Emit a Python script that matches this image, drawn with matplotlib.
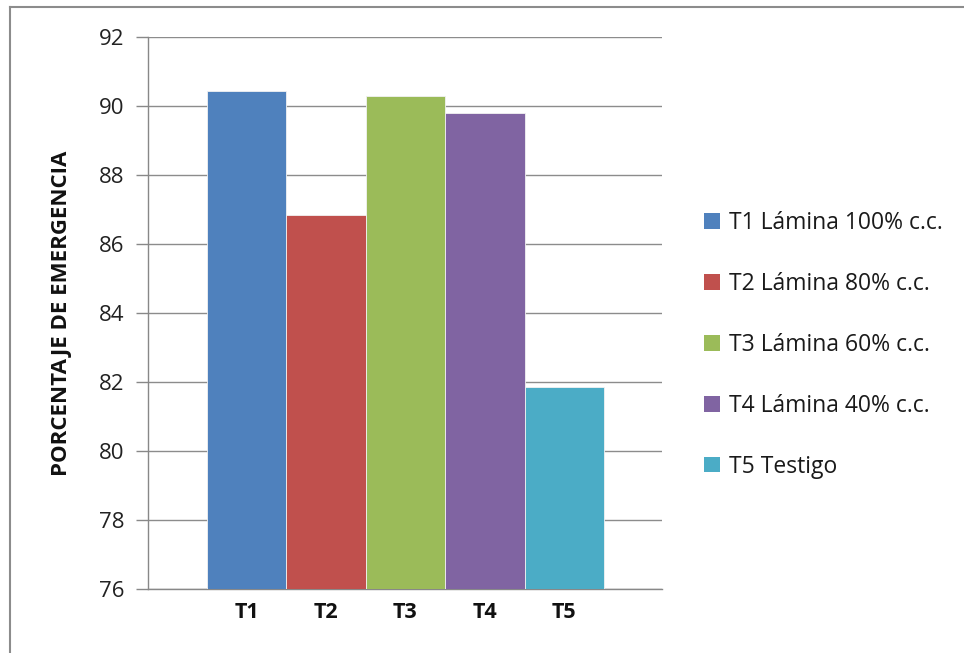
import matplotlib
matplotlib.use("Agg")
import matplotlib.pyplot as plt
from matplotlib.lines import Line2D
from matplotlib.patches import Patch

categories = ["T1", "T2", "T3", "T4", "T5"]
values = [90.44, 86.84, 90.30, 89.79, 81.86]
legend_labels = ["T1 Lámina 100% c.c.", "T2 Lámina 80% c.c.", "T3 Lámina 60% c.c.",
                 "T4 Lámina 40% c.c.", "T5 Testigo"]
colors = ["#4F81BD", "#C0504D", "#9BBB59", "#8064A2", "#4BACC6"]
yticks = [76, 78, 80, 82, 84, 86, 88, 90, 92]

plt.rcParams['font.family'] = ['Open Sans', 'DejaVu Sans']

fig = plt.figure(figsize=(9.64, 6.53), dpi=100)
ax = fig.add_axes([148/964, 1-589/653, (662-148)/964, (589-37)/653])

x = list(range(len(categories)))
ax.bar(x, values, width=1.0, bottom=0, color=colors, edgecolor="#F2F2F2", linewidth=0.6, zorder=3)
ax.set_ylim(76, 92)
ax.set_xlim(-1.24, 5.23)
ax.set_yticks(yticks)
ax.set_yticklabels([str(t) for t in yticks], fontsize=16, color="#222222")
ax.set_xticks(x)
ax.set_xticklabels(categories, fontsize=15.5, fontweight="bold", color="#111111")
ax.tick_params(axis="x", length=0, pad=9)
ax.tick_params(axis="y", length=9, width=1, color="#888888", pad=8, direction="out")
ax.yaxis.grid(True, color="#8C8C8C", linewidth=1.0, zorder=0)
ax.set_axisbelow(True)
for s in ["top", "right"]:
    ax.spines[s].set_visible(False)
ax.spines["left"].set_color("#888888")
ax.spines["bottom"].set_color("#888888")
ax.spines["left"].set_linewidth(1.0)
ax.spines["bottom"].set_linewidth(1.0)

ax.set_ylabel("PORCENTAJE DE EMERGENCIA", fontsize=16, fontweight="bold", color="#111111", labelpad=19)

handles = [Patch(facecolor=c, edgecolor="none") for c in colors]
leg = fig.legend(handles, legend_labels, loc="upper left", bbox_to_anchor=(704/964, 1-211/653),
                 frameon=False, fontsize=16.5, handlelength=0.68, handleheight=0.68,
                 handletextpad=0.4, labelspacing=1.61, borderaxespad=0, borderpad=0)
for t in leg.get_texts():
    t.set_color("#1a1a1a")

# outer frame (cropped on right/bottom)
fig.add_artist(Line2D([10/964, 10/964], [0, 1-7/653], color="#8C8C8C", linewidth=1.5, transform=fig.transFigure))
fig.add_artist(Line2D([10/964, 1], [1-7/653, 1-7/653], color="#8C8C8C", linewidth=1.5, transform=fig.transFigure))

fig.savefig("out.png", dpi=100)
